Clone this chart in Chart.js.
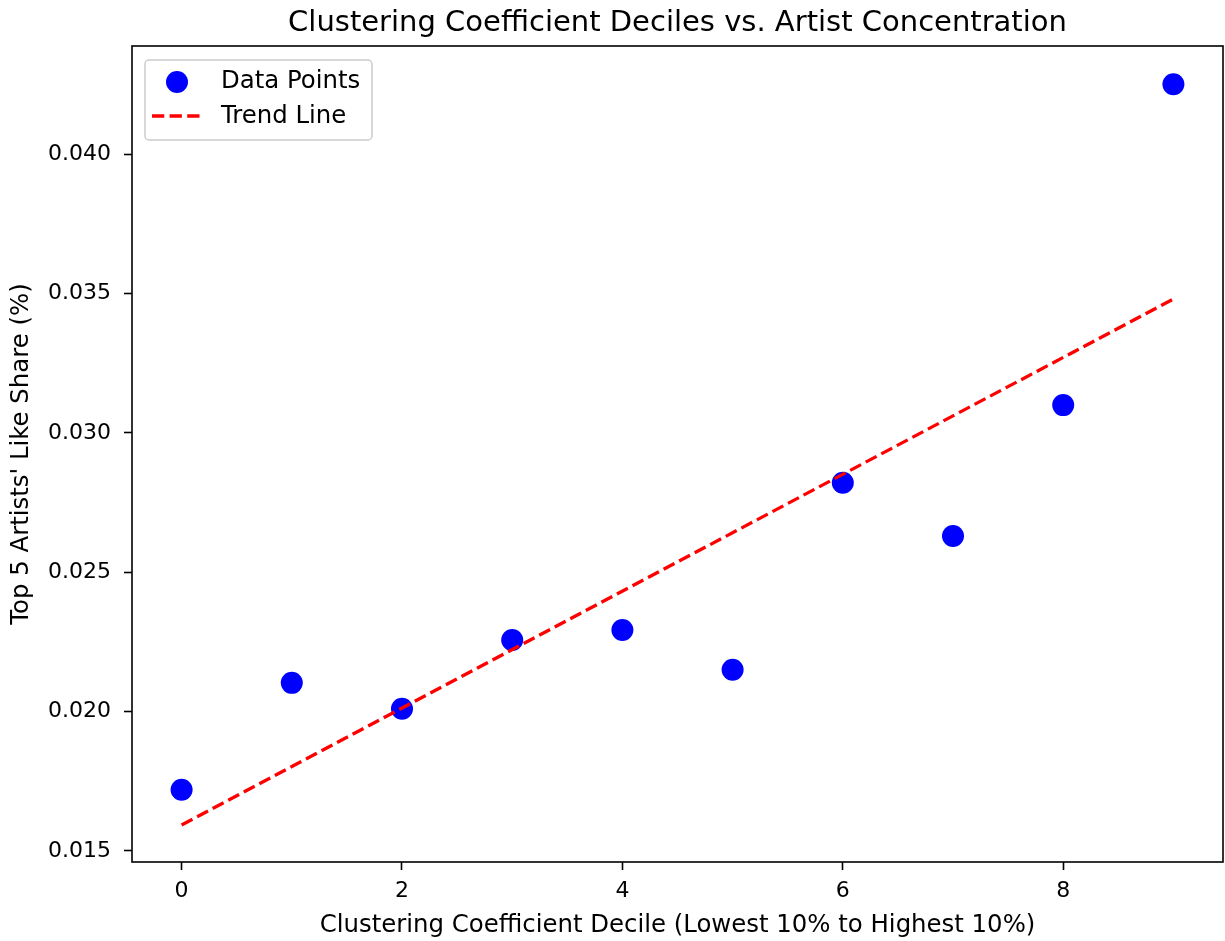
<!DOCTYPE html>
<html>
<head>
<meta charset="utf-8">
<script src="https://cdn.jsdelivr.net/npm/chart.js@4.4.1/dist/chart.umd.min.js"></script>
<style>
  html, body { margin: 0; padding: 0; background: #fff; overflow: hidden; }
  #wrap { width: 1225px; height: 941px; position: relative; }
</style>
</head>
<body>
<div id="wrap"><canvas id="chart"></canvas></div>
<script>
  // decile index vs. share of likes held by the top 5 artists
  const deciles = [0, 1, 2, 3, 4, 5, 6, 7, 8, 9];
  const topShare = [0.01719, 0.02103, 0.02010, 0.02257, 0.02293, 0.02150, 0.02821, 0.02630, 0.03100, 0.04252];

  // fitted trend line, end points
  const trendX = [0, 9];
  const trendY = [0.01593, 0.03481];

  const xTicks = [0, 2, 4, 6, 8];
  const yTicks = [0.015, 0.020, 0.025, 0.030, 0.035, 0.040];

  const FONT = "'DejaVu Sans', sans-serif";
  const TEXT = "#000";

  const frameAndLabels = {
    id: "frameAndLabels",
    afterDatasetsDraw(chart) {
      const { ctx, chartArea: a } = chart;
      ctx.save();
      // axes box
      ctx.strokeStyle = "#000";
      ctx.lineWidth = 1.6;
      ctx.strokeRect(a.left, a.top, a.right - a.left, a.bottom - a.top);

      // legend
      const lx = 145, ly = 60, lw = 227, lh = 80;
      ctx.fillStyle = "rgba(255,255,255,0.8)";
      ctx.strokeStyle = "#cccccc";
      ctx.lineWidth = 1.5;
      ctx.beginPath();
      ctx.roundRect(lx, ly, lw, lh, 4);
      ctx.fill();
      ctx.stroke();

      ctx.fillStyle = "#0000ff";
      ctx.beginPath();
      ctx.arc(177, 82, 11, 0, Math.PI * 2);
      ctx.fill();

      ctx.strokeStyle = "#ff0000";
      ctx.lineWidth = 3.3;
      ctx.setLineDash([12.3, 5.3]);
      ctx.beginPath();
      ctx.moveTo(152, 116);
      ctx.lineTo(201, 116);
      ctx.stroke();
      ctx.setLineDash([]);

      ctx.fillStyle = TEXT;
      ctx.font = "24.4px " + FONT;
      ctx.textAlign = "left";
      ctx.textBaseline = "middle";
      ctx.fillText("Data Points", 221, 82);
      ctx.fillText("Trend Line", 221, 117);

      // title
      ctx.textAlign = "center";
      ctx.textBaseline = "alphabetic";
      ctx.font = "29px " + FONT;
      ctx.fillText("Clustering Coefficient Deciles vs. Artist Concentration", (a.left + a.right) / 2, 31);

      // axis titles
      ctx.font = "24.4px " + FONT;
      ctx.fillText("Clustering Coefficient Decile (Lowest 10% to Highest 10%)", (a.left + a.right) / 2, 932);
      ctx.translate(28, (a.top + a.bottom) / 2);
      ctx.rotate(-Math.PI / 2);
      ctx.fillText("Top 5 Artists' Like Share (%)", 0, 0);
      ctx.restore();
    }
  };

  new Chart(document.getElementById("chart"), {
    type: "scatter",
    data: {
      datasets: [
        {
          label: "Trend Line",
          type: "line",
          data: trendX.map((x, i) => ({ x, y: trendY[i] })),
          borderColor: "#ff0000",
          borderWidth: 3.3,
          borderDash: [12.3, 5.3],
          pointRadius: 0,
          fill: false,
          order: 0,
        },
        {
          label: "Data Points",
          data: deciles.map((x, i) => ({ x, y: topShare[i] })),
          backgroundColor: "#0000ff",
          borderWidth: 0,
          pointRadius: 11,
          pointHoverRadius: 11,
          order: 1,
        },
      ],
    },
    options: {
      responsive: true,
      maintainAspectRatio: false,
      animation: false,
      layout: { autoPadding: false, padding: { top: 46, right: 2, left: 0, bottom: 0 } },
      plugins: { legend: { display: false }, tooltip: { enabled: false }, title: { display: false } },
      scales: {
        x: {
          type: "linear",
          min: -0.45,
          max: 9.45,
          afterBuildTicks: (s) => { s.ticks = xTicks.map((v) => ({ value: v })); },
          afterFit: (s) => { s.height = 79; s.paddingLeft = 0; s.paddingRight = 0; },
          grid: { drawOnChartArea: false, drawTicks: true, tickLength: 8, tickColor: "#000", tickWidth: 1.6 },
          border: { display: false },
          ticks: { color: TEXT, font: { family: FONT, size: 22 }, padding: 8, maxRotation: 0, callback: (v) => String(v) },
        },
        y: {
          min: 0.0146,
          max: 0.04389,
          afterBuildTicks: (s) => { s.ticks = yTicks.map((v) => ({ value: v })); },
          afterFit: (s) => { s.width = 132; s.paddingTop = 0; s.paddingBottom = 0; },
          grid: { drawOnChartArea: false, drawTicks: true, tickLength: 8, tickColor: "#000", tickWidth: 1.6 },
          border: { display: false },
          ticks: { color: TEXT, font: { family: FONT, size: 22 }, padding: 13, callback: (v) => v.toFixed(3) },
        },
      },
    },
    plugins: [frameAndLabels],
  });
</script>
</body>
</html>
